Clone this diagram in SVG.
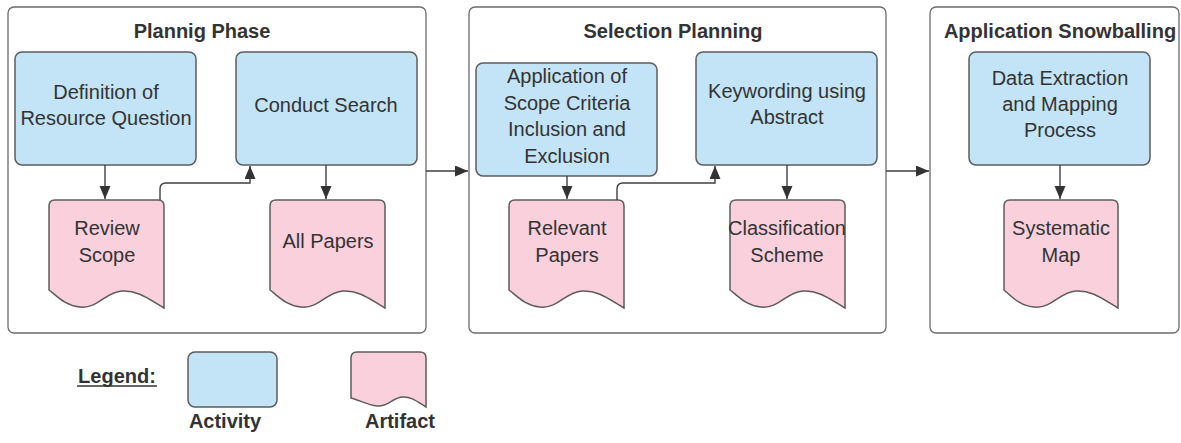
<svg xmlns="http://www.w3.org/2000/svg" width="1181" height="443" viewBox="0 0 1181 443">
  <defs>
    <marker id="arrow" markerUnits="userSpaceOnUse" markerWidth="14" markerHeight="12" refX="13" refY="5.5" orient="auto">
      <path d="M0,0 L13,5.5 L0,11 z" fill="#333"/>
    </marker>
    <style>
      .panel { fill: #fff; stroke: #6b6b6b; stroke-width: 1.3; }
      .activity { fill: #c2e4f6; stroke: #5c5c5c; stroke-width: 1.5; }
      .artifact { fill: #f9d0dc; stroke: #5c5c5c; stroke-width: 1.5; }
      .title { font-family: "Liberation Sans", Arial, sans-serif; font-weight: bold; font-size: 20px; fill: #333; text-anchor: middle; }
      .label { font-family: "Liberation Sans", Arial, sans-serif; font-size: 20px; fill: #333; text-anchor: middle; }
      .conn { fill: none; stroke: #3f3f3f; stroke-width: 1.4; }
    </style>
  </defs>

  <rect width="1181" height="443" fill="#fff"/>

  <!-- Phase containers -->
  <g id="planning-phase">
    <rect class="panel" x="8" y="7" width="418" height="326" rx="6"/>
    <text class="title" x="202" y="38">Plannig Phase</text>
  </g>
  <g id="selection-planning">
    <rect class="panel" x="469" y="7" width="417" height="326" rx="6"/>
    <text class="title" x="673" y="38">Selection Planning</text>
  </g>
  <g id="application-snowballing">
    <rect class="panel" x="930" y="7" width="249" height="326" rx="6"/>
    <text class="title" x="1060" y="38">Application Snowballing</text>
  </g>

  <!-- Activities -->
  <g id="definition">
    <rect class="activity" x="15" y="52" width="181" height="113" rx="7"/>
    <text class="label" x="106" y="99">Definition of</text>
    <text class="label" x="106" y="125">Resource Question</text>
  </g>
  <g id="conduct-search">
    <rect class="activity" x="236" y="52" width="181" height="113" rx="7"/>
    <text class="label" x="326" y="112">Conduct Search</text>
  </g>
  <g id="scope-criteria">
    <rect class="activity" x="476" y="63" width="181" height="113" rx="7"/>
    <text class="label" x="567" y="83">Application of</text>
    <text class="label" x="567" y="110">Scope Criteria</text>
    <text class="label" x="567" y="136">Inclusion and</text>
    <text class="label" x="567" y="163">Exclusion</text>
  </g>
  <g id="keywording">
    <rect class="activity" x="696" y="52" width="181" height="113" rx="7"/>
    <text class="label" x="787" y="98">Keywording using</text>
    <text class="label" x="787" y="124">Abstract</text>
  </g>
  <g id="data-extraction">
    <rect class="activity" x="969" y="52" width="181" height="113" rx="7"/>
    <text class="label" x="1060" y="85">Data Extraction</text>
    <text class="label" x="1060" y="111">and Mapping</text>
    <text class="label" x="1060" y="137">Process</text>
  </g>

  <!-- Artifacts (document shape) -->
  <g id="review-scope">
    <path class="artifact" d="M49,206 Q49,200 55,200 L158,200 Q164,200 164,206 L164,308 C150,300 138,290 122,291 C105,292 98,309 80,307 C66,306 58,297 49,290 Z"/>
    <text class="label" x="107" y="235">Review</text>
    <text class="label" x="107" y="262">Scope</text>
  </g>
  <g id="all-papers">
    <path class="artifact" d="M270,206 Q270,200 276,200 L379,200 Q385,200 385,206 L385,308 C371,300 359,290 343,291 C326,292 319,309 301,307 C287,306 279,297 270,290 Z"/>
    <text class="label" x="328" y="248">All Papers</text>
  </g>
  <g id="relevant-papers">
    <path class="artifact" d="M509,206 Q509,200 515,200 L618,200 Q624,200 624,206 L624,308 C610,300 598,290 582,291 C565,292 558,309 540,307 C526,306 518,297 509,290 Z"/>
    <text class="label" x="567" y="235">Relevant</text>
    <text class="label" x="567" y="262">Papers</text>
  </g>
  <g id="classification-scheme">
    <path class="artifact" d="M730,206 Q730,200 736,200 L839,200 Q845,200 845,206 L845,308 C831,300 819,290 803,291 C786,292 779,309 761,307 C747,306 739,297 730,290 Z"/>
    <text class="label" x="787" y="235">Classification</text>
    <text class="label" x="787" y="262">Scheme</text>
  </g>
  <g id="systematic-map">
    <path class="artifact" d="M1004,206 Q1004,200 1010,200 L1112,200 Q1118,200 1118,206 L1118,308 C1104,300 1092,290 1076,291 C1059,292 1052,309 1034,307 C1020,306 1012,297 1004,290 Z"/>
    <text class="label" x="1061" y="235">Systematic</text>
    <text class="label" x="1061" y="262">Map</text>
  </g>

  <!-- Connectors -->
  <g id="connectors">
    <path class="conn" d="M105,165 L105,199" marker-end="url(#arrow)"/>
    <path class="conn" d="M160,200 L160,189 Q160,183 166,183 L250,183 L250,166" marker-end="url(#arrow)"/>
    <path class="conn" d="M326,165 L326,199" marker-end="url(#arrow)"/>
    <path class="conn" d="M426,171 L468,171" marker-end="url(#arrow)"/>
    <path class="conn" d="M567,176 L567,199" marker-end="url(#arrow)"/>
    <path class="conn" d="M617,200 L617,189 Q617,183 623,183 L715,183 L715,166" marker-end="url(#arrow)"/>
    <path class="conn" d="M787,165 L787,199" marker-end="url(#arrow)"/>
    <path class="conn" d="M886,171 L929,171" marker-end="url(#arrow)"/>
    <path class="conn" d="M1060,165 L1060,199" marker-end="url(#arrow)"/>
  </g>

  <!-- Legend -->
  <g id="legend">
    <text class="title" x="117" y="383">Legend:</text>
    <line x1="77" y1="386" x2="157" y2="386" stroke="#333" stroke-width="1.6"/>
    <rect class="activity" x="188" y="352" width="89" height="55" rx="7"/>
    <path class="artifact" d="M351,358 Q351,352 357,352 L420,352 Q426,352 426,358 L426,407 C418,402 411,396 402,397 C392,398 388,407 377,406 C368,405 359,400 351,398 Z"/>
    <text class="title" x="225" y="428">Activity</text>
    <text class="title" x="400" y="428">Artifact</text>
  </g>
</svg>
